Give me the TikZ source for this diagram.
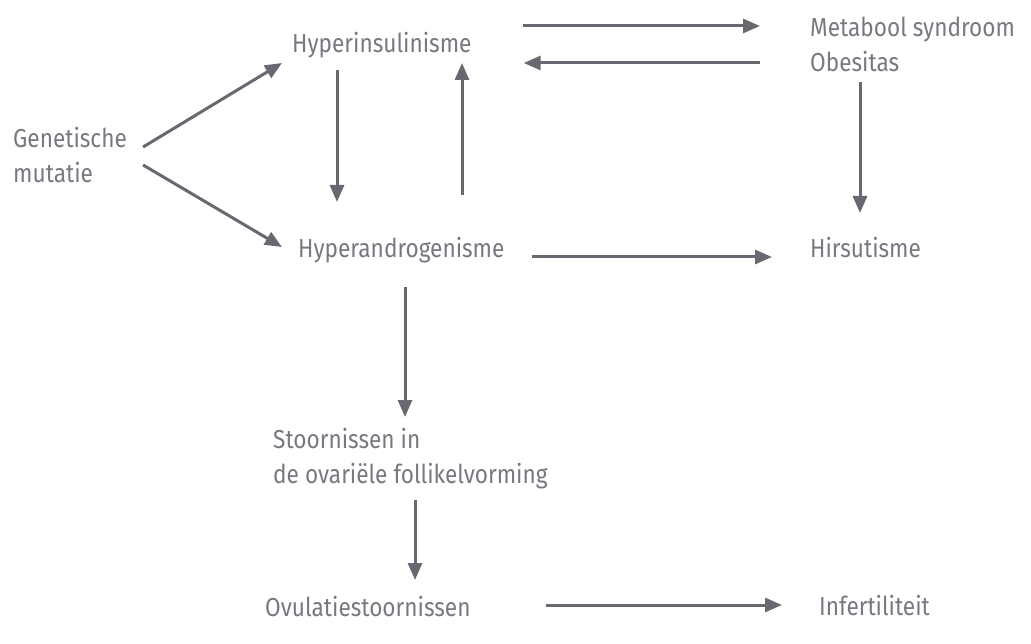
\documentclass[tikz,border=0pt]{standalone}
\usepackage{fontspec}
\setmainfont{Fira Sans}[FakeStretch=0.87]
\usepackage{tikz}
\usetikzlibrary{positioning, arrows.meta}
\definecolor{pcostext}{RGB}{120,120,130}
\definecolor{pcosarrow}{RGB}{104,104,112}

\begin{document}
\begin{tikzpicture}[x=1pt, y=-1pt,
    label/.style={inner sep=0pt, anchor=base west, align=left, text=pcostext,
        font=\fontsize{26}{35}\selectfont},
    flow/.style={-{Triangle[length=17pt, width=14pt]}, line width=3pt, draw=pcosarrow}]
    \useasboundingbox[fill=white] (0,0) rectangle (1031,644);

    % Text nodes (multi-line ones sit on their last baseline)
    \node[label] (hins)   at (292,53)  {Hyperinsulinisme};
    \node[label] (meta)   at (810,72)  {Metabool syndroom\\Obesitas};
    \node[label] (gen)    at (13,183)  {Genetische\\mutatie};
    \node[label] (handro) at (298,258) {Hyperandrogenisme};
    \node[label] (hirs)   at (810,258) {Hirsutisme};
    \node[label] (stoor)  at (273,483) {Stoornissen in\\de ovariële follikelvorming};
    \node[label] (ovul)   at (265,616) {Ovulatiestoornissen};
    \node[label] (infer)  at (819,615) {Infertiliteit};

    % Genetic branch
    \draw[flow] ([shift={(16,-36)}]gen.base east) -- ([shift={(-10,10)}]hins.base west);
    \draw[flow] ([shift={(16,-18)}]gen.base east) -- ([shift={(-16,-11)}]handro.base west);

    % Insulin / androgen loop
    \draw[flow] ([shift={(45,17)}]hins.base west) -- ([shift={(39,-56)}]handro.base west);
    \draw[flow] ([shift={(164,-63)}]handro.base west) -- ([shift={(170,10)}]hins.base west);

    % Metabolic syndrome
    \draw[flow] ([shift={(51,-27)}]hins.base east) -- ([shift={(-50,-46)}]meta.base west);
    \draw[flow] ([shift={(-50,-9)}]meta.base west) -- ([shift={(52,10)}]hins.base east);
    \draw[flow] ([shift={(50,10)}]meta.base west) -- ([shift={(50,-45)}]hirs.base west);
    \draw[flow] ([shift={(27,-1)}]handro.base east) -- ([shift={(-38,-1)}]hirs.base west);

    % Ovarian chain
    \draw[flow] ([shift={(107,29)}]handro.base west) -- ([shift={(132,-66)}]stoor.base west);
    \draw[flow] ([shift={(142,17)}]stoor.base west) -- ([shift={(150,-36)}]ovul.base west);
    \draw[flow] ([shift={(75,-11)}]ovul.base east) -- ([shift={(-37,-10)}]infer.base west);
\end{tikzpicture}
\end{document}
